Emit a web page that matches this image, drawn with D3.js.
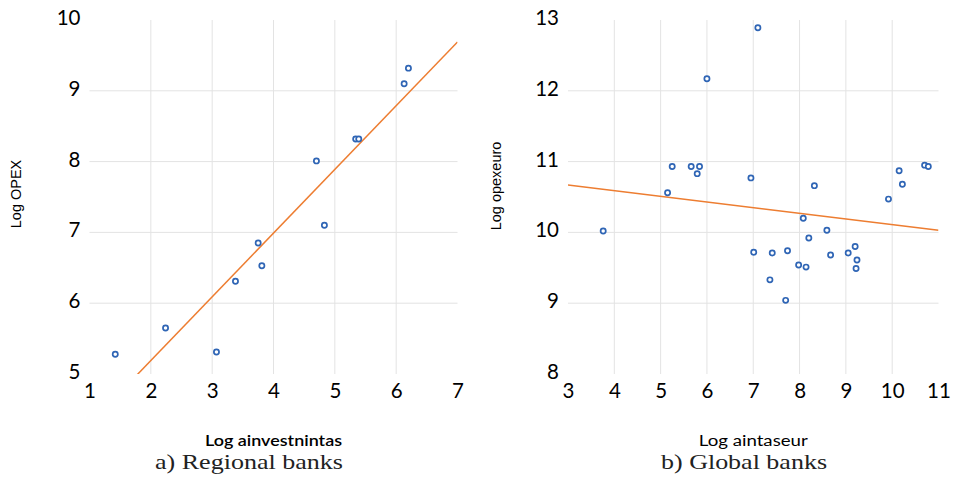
<!DOCTYPE html>
<html>
<head>
<meta charset="utf-8">
<script src="https://cdn.jsdelivr.net/npm/d3@7"></script>
<style>
  html, body { margin: 0; padding: 0; background: #fff; }
  svg { display: block; }
</style>
</head>
<body>
<div id="chart"></div>
<script>
// Regional banks: log ainvestnintas vs log OPEX
const regionalX = [6.13, 6.20, 5.34, 5.39, 4.70, 4.83, 3.75, 3.81, 3.38, 2.24, 3.07, 1.42]
const regionalY = [9.10, 9.32, 8.32, 8.32, 8.01, 7.10, 6.85, 6.53, 6.31, 5.65, 5.31, 5.28]
const regionalTrend = [0.90, 3.39] // slope, intercept
const regionalXTicks = [1, 2, 3, 4, 5, 6, 7]
const regionalYTicks = [5, 6, 7, 8, 9, 10]

// Global banks: log aintaseur vs log opexeuro
const globalX = [7.10, 6.00, 5.25, 5.66, 5.84, 5.79, 5.15, 6.95, 8.32, 9.92, 10.15, 10.22, 10.70, 10.78,
  3.76, 8.08, 8.59, 8.20, 9.20, 7.01, 7.41, 7.74, 9.05, 8.67, 9.24, 9.22, 7.98, 8.14, 7.36, 7.70]
const globalY = [12.89, 12.17, 10.93, 10.93, 10.93, 10.83, 10.56, 10.77, 10.66, 10.47, 10.87, 10.68, 10.95, 10.93,
  10.02, 10.20, 10.03, 9.92, 9.80, 9.72, 9.71, 9.74, 9.71, 9.68, 9.61, 9.49, 9.54, 9.51, 9.33, 9.04]
const globalTrend = [-0.08, 10.91]
const globalXTicks = [3, 4, 5, 6, 7, 8, 9, 10, 11]
const globalYTicks = [8, 9, 10, 11, 12, 13]

const width = 954
const height = 485
const tickFont = 'Lato, "Open Sans", sans-serif'

const svg = d3.select('#chart')
  .append('svg')
  .attr('width', width)
  .attr('height', height)

svg.append('rect').attr('width', width).attr('height', height).attr('fill', '#fff')

function panel(opts) {
  const { id, xs, ys, trend, xTicks, yTicks, left, right, top, bottom,
    yTitle, yTitleX, yTitleY, xTitle, xTitleLen, xTitleWeight,
    caption, captionX, captionAnchor, captionLen } = opts

  const x = d3.scaleLinear().domain(d3.extent(xTicks)).range([left, right])
  const y = d3.scaleLinear().domain(d3.extent(yTicks)).range([bottom, top])
  const g = svg.append('g')

  g.append('clipPath').attr('id', `clip-${id}`)
    .append('rect')
    .attr('x', left).attr('y', top)
    .attr('width', right - left).attr('height', bottom - top)

  // interior gridlines only
  g.append('g').selectAll('line')
    .data(xTicks.slice(1, -1))
    .join('line')
    .attr('x1', d => x(d)).attr('x2', d => x(d))
    .attr('y1', top).attr('y2', bottom)
    .attr('stroke', '#e3e3e3').attr('stroke-width', 1)
  g.append('g').selectAll('line')
    .data(yTicks.slice(1, -1))
    .join('line')
    .attr('x1', left).attr('x2', right)
    .attr('y1', d => y(d)).attr('y2', d => y(d))
    .attr('stroke', '#e3e3e3').attr('stroke-width', 1)

  // tick labels through d3 axes
  const xAxis = g.append('g')
    .attr('transform', `translate(0,${bottom})`)
    .call(d3.axisBottom(x).tickValues(xTicks).tickSize(0).tickPadding(9).tickFormat(d3.format('d')))
  const yAxis = g.append('g')
    .attr('transform', `translate(${left},0)`)
    .call(d3.axisLeft(y).tickValues(yTicks).tickSize(0).tickPadding(9).tickFormat(d3.format('d')))
  for (const ax of [xAxis, yAxis]) {
    ax.select('.domain').remove()
    ax.selectAll('text')
      .attr('font-family', tickFont)
      .attr('font-size', 20.5)
      .attr('fill', '#000')
  }
  yAxis.selectAll('text').attr('dy', '0.22em')

  // trendline
  const [slope, intercept] = trend
  const xd = x.domain()
  g.append('line')
    .attr('clip-path', `url(#clip-${id})`)
    .attr('x1', x(xd[0])).attr('y1', y(slope * xd[0] + intercept))
    .attr('x2', x(xd[1])).attr('y2', y(slope * xd[1] + intercept))
    .attr('stroke', '#ED7D31').attr('stroke-width', 1.5)

  // points
  g.append('g').selectAll('circle')
    .data(d3.zip(xs, ys))
    .join('circle')
    .attr('cx', d => x(d[0]))
    .attr('cy', d => y(d[1]))
    .attr('r', 2.6)
    .attr('fill', '#fff')
    .attr('stroke', '#2f65b5')
    .attr('stroke-width', 1.7)

  // titles
  g.append('text')
    .attr('transform', `translate(${yTitleX},${yTitleY}) rotate(-90)`)
    .attr('text-anchor', 'middle')
    .attr('dy', '0.35em')
    .attr('font-family', '"Liberation Sans", Arial, sans-serif')
    .attr('font-size', 14.5)
    .attr('fill', '#000')
    .text(yTitle)

  g.append('text')
    .attr('x', (left + right) / 2)
    .attr('y', 446)
    .attr('text-anchor', 'middle')
    .attr('font-family', tickFont)
    .attr('font-size', 14.5)
    .attr('font-weight', xTitleWeight)
    .attr('textLength', xTitleLen)
    .attr('lengthAdjust', 'spacingAndGlyphs')
    .attr('fill', '#000')
    .text(xTitle)

  g.append('text')
    .attr('x', captionX)
    .attr('y', 469)
    .attr('text-anchor', captionAnchor)
    .attr('font-family', '"Liberation Serif", "Times New Roman", serif')
    .attr('font-size', 22)
    .attr('textLength', captionLen)
    .attr('lengthAdjust', 'spacingAndGlyphs')
    .attr('fill', '#222')
    .text(caption)
}

panel({
  id: 'a', xs: regionalX, ys: regionalY, trend: regionalTrend,
  xTicks: regionalXTicks, yTicks: regionalYTicks,
  left: 89.5, right: 457.5, top: 20, bottom: 374,
  yTitle: 'Log OPEX', yTitleX: 16, yTitleY: 194,
  xTitle: 'Log ainvestnintas', xTitleLen: 137, xTitleWeight: 600,
  caption: 'a) Regional banks', captionX: 155, captionAnchor: 'start', captionLen: 188
})

panel({
  id: 'b', xs: globalX, ys: globalY, trend: globalTrend,
  xTicks: globalXTicks, yTicks: globalYTicks,
  left: 568, right: 938.5, top: 20, bottom: 374,
  yTitle: 'Log opexeuro', yTitleX: 496, yTitleY: 186,
  xTitle: 'Log aintaseur', xTitleLen: 109, xTitleWeight: 400,
  caption: 'b) Global banks', captionX: 827, captionAnchor: 'end', captionLen: 166
})
</script>
</body>
</html>
